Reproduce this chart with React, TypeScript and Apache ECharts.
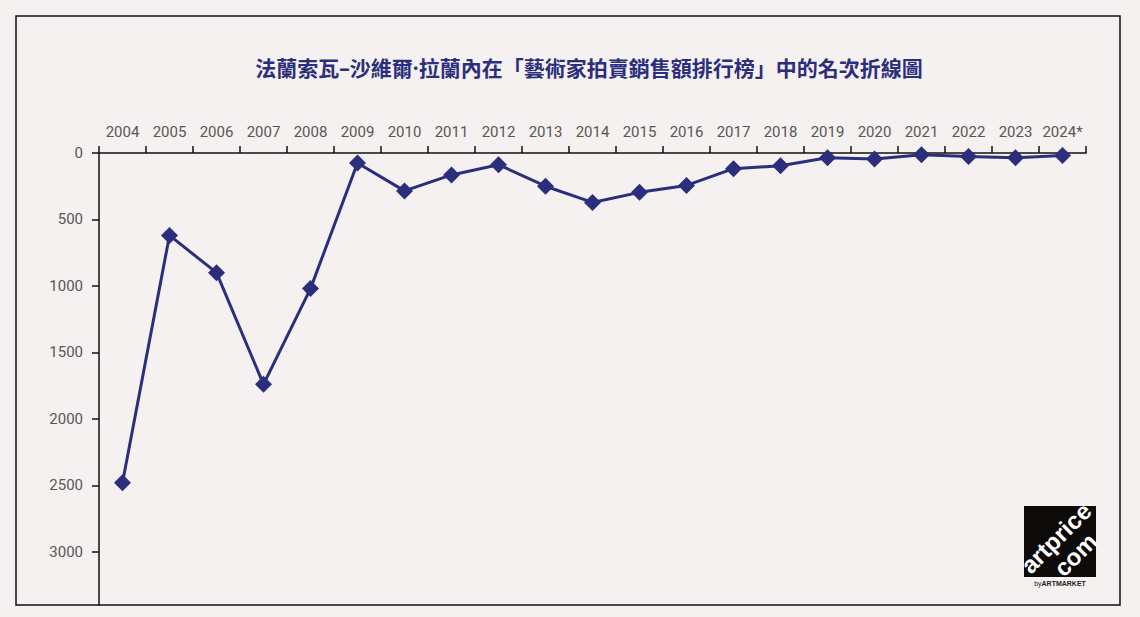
import React, { useEffect, useRef } from "react";
import * as echarts from "echarts";

const titleText = "法蘭索瓦–沙維爾·拉蘭內在「藝術家拍賣銷售額排行榜」中的名次折線圖";

const years = [
  "2004", "2005", "2006", "2007", "2008", "2009", "2010", "2011", "2012", "2013", "2014",
  "2015", "2016", "2017", "2018", "2019", "2020", "2021", "2022", "2023", "2024*",
];

// auction ranking per year (lower = better)
const ranks = [
  2480, 620, 900, 1740, 1020, 75, 285, 165, 88, 250, 372,
  296, 244, 118, 96, 36, 45, 14, 26, 36, 18,
];

const rankTicks = [0, 500, 1000, 1500, 2000, 2500, 3000];

const navy = "#2b2e7c";
const labelColor = "#5a5656";

const App: React.FC = () => {
  const chartRef = useRef<HTMLDivElement>(null);

  useEffect(() => {
    if (!chartRef.current) return;
    const chart = echarts.init(chartRef.current, null, { renderer: "svg" });

    chart.setOption({
      animation: false,
      backgroundColor: "#f4f1f0",
      grid: { left: 99, top: 153, right: 54, bottom: 12 },
      xAxis: {
        type: "category",
        position: "top",
        data: years,
        boundaryGap: true,
        axisLine: { onZero: false, lineStyle: { color: "#111", width: 1.5 } },
        axisTick: { show: true, inside: false, interval: 0, length: 7, lineStyle: { color: "#111", width: 1.5 } },
        axisLabel: {
          interval: 0,
          color: labelColor,
          fontFamily: "Roboto",
          fontSize: 15,
          margin: 14,
        },
        splitLine: { show: false },
      },
      yAxis: {
        type: "value",
        inverse: true,
        min: 0,
        max: 3400,
        interval: 500,
        axisLine: { show: true, lineStyle: { color: "#111", width: 1.5 } },
        axisTick: {
          show: true,
          length: 7,
          customValues: rankTicks,
          lineStyle: { color: "#111", width: 1.5 },
        },
        axisLabel: {
          color: labelColor,
          fontFamily: "Roboto",
          fontSize: 15,
          margin: 16,
          customValues: rankTicks,
          formatter: (v: number) => String(v),
        },
        splitLine: { show: false },
      },
      series: [
        {
          type: "line",
          data: ranks,
          symbol: "diamond",
          symbolSize: 17,
          showAllSymbol: true,
          lineStyle: { color: navy, width: 3 },
          itemStyle: { color: navy },
        },
      ],
      graphic: [
        {
          type: "rect",
          shape: { x: 16, y: 16, width: 1104, height: 589 },
          style: { fill: "none", stroke: "#111", lineWidth: 1.5 },
          silent: true,
        },
        {
          type: "text",
          x: 589,
          y: 68,
          style: {
            text: titleText,
            fill: navy,
            font: "bold 21px 'Noto Sans', 'Noto Sans CJK TC'",
            textAlign: "center",
            textVerticalAlign: "middle",
          },
        },
        // artprice logo
        {
          type: "rect",
          shape: { x: 1024, y: 506, width: 72, height: 71 },
          style: { fill: "#0d0a0a" },
        },
        {
          type: "text",
          x: 1056,
          y: 538,
          rotation: Math.PI / 4,
          style: {
            text: "artprice",
            fill: "#fff",
            font: "bold 24px 'Liberation Sans'",
            textAlign: "center",
            textVerticalAlign: "middle",
          },
        },
        {
          type: "text",
          x: 1073,
          y: 557,
          rotation: Math.PI / 4,
          style: {
            text: ".com",
            fill: "#fff",
            font: "bold 24px 'Liberation Sans'",
            textAlign: "center",
            textVerticalAlign: "middle",
          },
        },
        {
          type: "text",
          x: 1060,
          y: 583,
          style: {
            text: "{a|by}{b|ARTMARKET}",
            textAlign: "center",
            textVerticalAlign: "middle",
            rich: {
              a: { fill: "#222", fontSize: 7, fontFamily: "Liberation Sans" },
              b: { fill: "#222", fontSize: 7, fontWeight: "bold", fontFamily: "Liberation Sans" },
            },
          },
        },
      ],
    });

    return () => {
      chart.dispose();
    };
  }, []);

  return (
    <div
      ref={chartRef}
      style={{ position: "absolute", left: 0, top: 0, width: "1140px", height: "617px" }}
    />
  );
};

export default App;
